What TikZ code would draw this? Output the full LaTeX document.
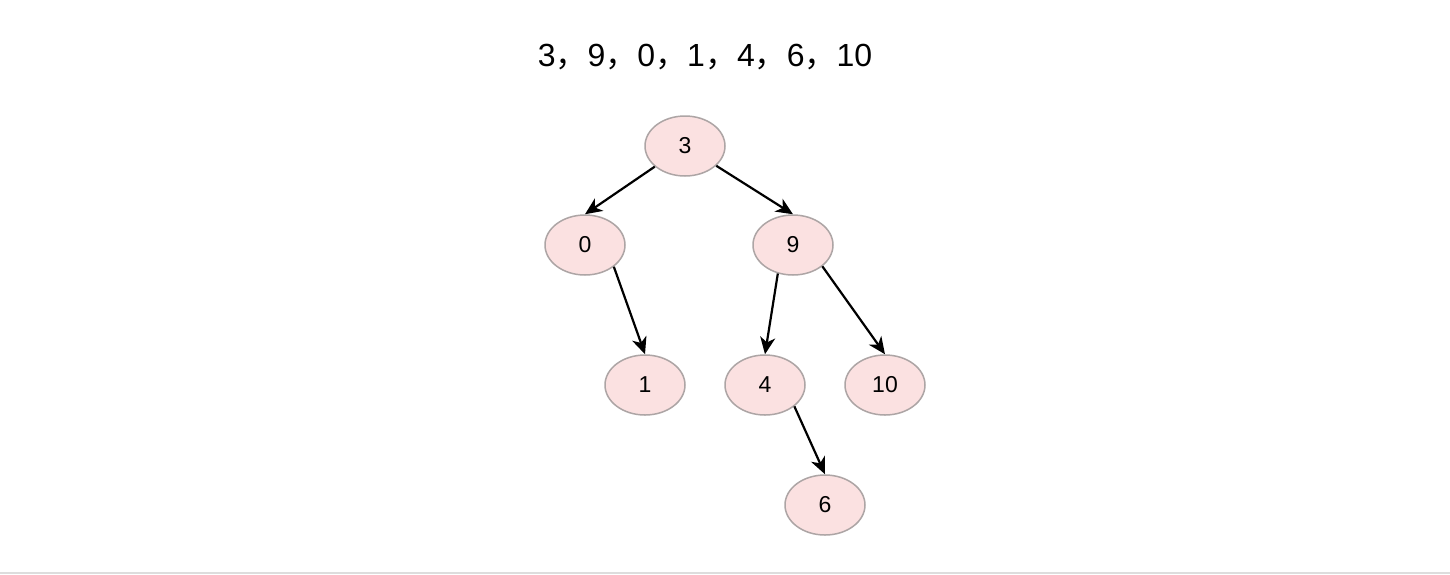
\documentclass[tikz,border=0pt]{standalone}
\usepackage{fontspec}
\setmainfont{Liberation Sans}
\newfontfamily\cjk{Noto Sans CJK SC}
\usetikzlibrary{arrows.meta,shapes.geometric}
\definecolor{nodefill}{HTML}{FBE1E1}
\definecolor{nodeline}{HTML}{ADA5A5}
\definecolor{frameline}{HTML}{DDDDDD}
\tikzset{
  bstnode/.style={ellipse, draw=nodeline, fill=nodefill, line width=1.5pt,
    minimum width=80pt, minimum height=60pt, inner sep=0pt,
    font=\fontsize{23}{27}\selectfont},
  edge/.style={draw=black, line width=2.2pt,
    -{Stealth[length=17pt,width=15pt,inset=5pt]}},
}
\begin{document}
\begin{tikzpicture}[x=1pt,y=-1pt]
\useasboundingbox (0,0) rectangle (1450,574);
\fill[white] (0,0) rectangle (1450,574);
\draw[frameline, line width=2pt] (0,572.5) -- (1450,572.5);
\node[font=\fontsize{32}{38}\selectfont, inner sep=0pt] (title) at (705,57)
  {3{\cjk ，}9{\cjk ，}0{\cjk ，}1{\cjk ，}4{\cjk ，}6{\cjk ，}10};
\node[bstnode] (n3) at (685,146) {3};
\node[bstnode] (n0) at (585,245) {0};
\node[bstnode] (n9) at (793,245) {9};
\node[bstnode] (n1) at (645,385) {1};
\node[bstnode] (n4) at (765,385) {4};
\node[bstnode] (n10) at (885,385) {10};
\node[bstnode] (n6) at (825,505) {6};
\draw[edge] (n3) -- (n0.north);
\draw[edge] (n3) -- (n9.north);
\draw[edge] (n0.-37) -- (n1.north);
\draw[edge] (n9.-118) -- (n4.north);
\draw[edge] (n9.-36) -- (n10.north);
\draw[edge] (n4.-36) -- (n6.north);
\end{tikzpicture}
\end{document}
